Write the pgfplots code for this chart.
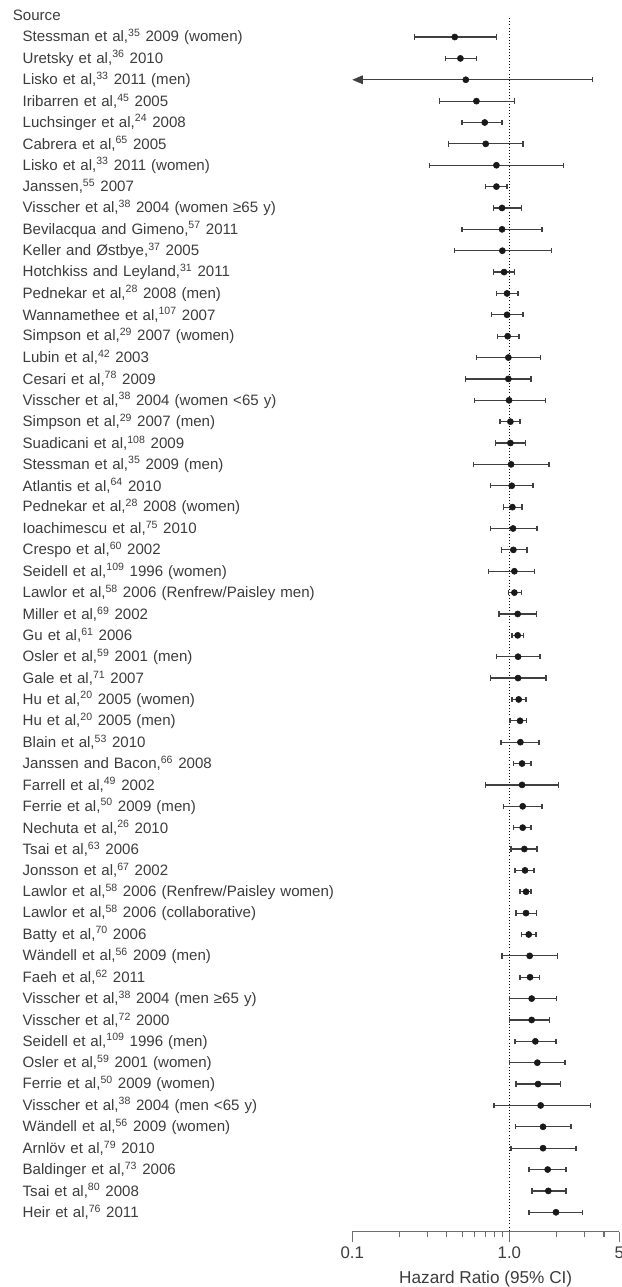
\documentclass[border=0pt]{standalone}
\usepackage{fontspec}
\setmainfont{Liberation Sans}
\usepackage{pgfplots}
\usepackage{pgfplotstable}
\pgfplotsset{compat=1.18}
\usetikzlibrary{arrows.meta}
\definecolor{txt}{RGB}{60,60,60}
\definecolor{axisgrey}{RGB}{110,110,110}

% y = row (top to bottom), hazard ratio, lower and upper 95% CI
\pgfplotstableread{
y hr lo hi
1 0.449 0.250 0.827
2 0.488 0.390 0.617
4 0.617 0.359 1.076
5 0.697 0.500 0.898
6 0.707 0.410 1.22
7 0.827 0.309 2.22
8 0.827 0.704 0.966
9 0.898 0.795 1.198
10 0.898 0.500 1.612
11 0.902 0.449 1.858
12 0.925 0.795 1.076
13 0.966 0.827 1.135
14 0.966 0.765 1.22
15 0.975 0.839 1.152
16 0.985 0.617 1.574
17 0.985 0.528 1.373
18 0.995 0.599 1.70
19 1.015 0.872 1.169
20 1.015 0.819 1.264
21 1.025 0.588 1.786
22 1.035 0.761 1.414
23 1.045 0.916 1.204
24 1.055 0.761 1.498
25 1.060 0.889 1.295
26 1.076 0.739 1.449
27 1.076 0.990 1.192
28 1.129 0.860 1.492
29 1.129 1.039 1.227
30 1.135 0.827 1.566
31 1.135 0.761 1.711
32 1.146 1.039 1.276
33 1.169 1.010 1.282
34 1.175 0.885 1.543
35 1.204 1.060 1.373
36 1.204 0.707 2.05
37 1.215 0.916 1.612
38 1.215 1.060 1.373
39 1.245 1.025 1.498
40 1.257 1.086 1.434
41 1.276 1.169 1.373
42 1.276 1.102 1.492
43 1.327 1.192 1.477
44 1.346 0.898 2.028
45 1.353 1.169 1.559
46 1.386 1.000 1.998
47 1.386 1.000 1.794
48 1.463 1.086 1.979
49 1.506 1.005 2.258
50 1.521 1.102 2.11
51 1.581 0.799 3.28
52 1.637 1.092 2.466
53 1.637 1.025 2.651
54 1.752 1.334 2.291
55 1.769 1.393 2.291
56 1.979 1.334 2.923
}\hrdata

\begin{document}
\begin{tikzpicture}
\path[use as bounding box] (-264.2pt,-41.5pt) rectangle (202.3pt,923.8pt);
\begin{axis}[
  at={(0,0)}, anchor=south west,
  scale only axis,
  width=200.25pt, height=910.05pt,
  xmode=log,
  xmin=0.1, xmax=5,
  ymin=0.125, ymax=56.908,
  y dir=reverse,
  clip=false,
  axis x line*=bottom,
  axis y line*=left,
  y axis line style={draw=none},
  x axis line style={axisgrey, line width=0.8pt},
  xtick={0.1,1,5},
  xticklabels={0.1,1.0,5},
  minor xtick={0.2,0.3,0.4,0.5,0.6,0.7,0.8,0.9,2,3,4},
  tick align=outside,
  major tick length=7.5pt,
  minor tick length=4pt,
  xtick style={axisgrey, line width=0.8pt},
  ytick style={draw=none},
  xticklabel style={font=\fontsize{12.6}{14}\selectfont, text=txt, yshift=-0.5pt},
  xlabel={Hazard Ratio (95\% CI)},
  xlabel style={font=\fontsize{12.9}{14}\selectfont, text=txt, yshift=-2pt},
  ytick={1,...,56},
  yticklabel style={anchor=east, inner sep=0pt, text width=239.5pt, align=left,
    font=\fontsize{11.3}{13}\selectfont, text=txt},
  yticklabels={
    {Stessman et al,\textsuperscript{35} 2009 (women)},
    {Uretsky et al,\textsuperscript{36} 2010},
    {Lisko et al,\textsuperscript{33} 2011 (men)},
    {Iribarren et al,\textsuperscript{45} 2005},
    {Luchsinger et al,\textsuperscript{24} 2008},
    {Cabrera et al,\textsuperscript{65} 2005},
    {Lisko et al,\textsuperscript{33} 2011 (women)},
    {Janssen,\textsuperscript{55} 2007},
    {Visscher et al,\textsuperscript{38} 2004 (women ≥65 y)},
    {Bevilacqua and Gimeno,\textsuperscript{57} 2011},
    {Keller and Østbye,\textsuperscript{37} 2005},
    {Hotchkiss and Leyland,\textsuperscript{31} 2011},
    {Pednekar et al,\textsuperscript{28} 2008 (men)},
    {Wannamethee et al,\textsuperscript{107} 2007},
    {Simpson et al,\textsuperscript{29} 2007 (women)},
    {Lubin et al,\textsuperscript{42} 2003},
    {Cesari et al,\textsuperscript{78} 2009},
    {Visscher et al,\textsuperscript{38} 2004 (women <65 y)},
    {Simpson et al,\textsuperscript{29} 2007 (men)},
    {Suadicani et al,\textsuperscript{108} 2009},
    {Stessman et al,\textsuperscript{35} 2009 (men)},
    {Atlantis et al,\textsuperscript{64} 2010},
    {Pednekar et al,\textsuperscript{28} 2008 (women)},
    {Ioachimescu et al,\textsuperscript{75} 2010},
    {Crespo et al,\textsuperscript{60} 2002},
    {Seidell et al,\textsuperscript{109} 1996 (women)},
    {Lawlor et al,\textsuperscript{58} 2006 (Renfrew/Paisley men)},
    {Miller et al,\textsuperscript{69} 2002},
    {Gu et al,\textsuperscript{61} 2006},
    {Osler et al,\textsuperscript{59} 2001 (men)},
    {Gale et al,\textsuperscript{71} 2007},
    {Hu et al,\textsuperscript{20} 2005 (women)},
    {Hu et al,\textsuperscript{20} 2005 (men)},
    {Blain et al,\textsuperscript{53} 2010},
    {Janssen and Bacon,\textsuperscript{66} 2008},
    {Farrell et al,\textsuperscript{49} 2002},
    {Ferrie et al,\textsuperscript{50} 2009 (men)},
    {Nechuta et al,\textsuperscript{26} 2010},
    {Tsai et al,\textsuperscript{63} 2006},
    {Jonsson et al,\textsuperscript{67} 2002},
    {Lawlor et al,\textsuperscript{58} 2006 (Renfrew/Paisley women)},
    {Lawlor et al,\textsuperscript{58} 2006 (collaborative)},
    {Batty et al,\textsuperscript{70} 2006},
    {Wändell et al,\textsuperscript{56} 2009 (men)},
    {Faeh et al,\textsuperscript{62} 2011},
    {Visscher et al,\textsuperscript{38} 2004 (men ≥65 y)},
    {Visscher et al,\textsuperscript{72} 2000},
    {Seidell et al,\textsuperscript{109} 1996 (men)},
    {Osler et al,\textsuperscript{59} 2001 (women)},
    {Ferrie et al,\textsuperscript{50} 2009 (women)},
    {Visscher et al,\textsuperscript{38} 2004 (men <65 y)},
    {Wändell et al,\textsuperscript{56} 2009 (women)},
    {Arnlöv et al,\textsuperscript{79} 2010},
    {Baldinger et al,\textsuperscript{73} 2006},
    {Tsai et al,\textsuperscript{80} 2008},
    {Heir et al,\textsuperscript{76} 2011}
  },
]
% reference line at HR = 1
\addplot[black, line width=0.7pt, dash pattern=on 0.7pt off 1.6pt] coordinates {(1,0.125) (1,56.908)};

\addplot[only marks, mark=*, mark size=2.3pt, mark options={fill=black!90, draw=black!90},
  error bars/.cd, x dir=both, x explicit, error mark=|,
  error bar style={black!75, line width=0.9pt},
  error mark options={black!75, line width=0.9pt, mark size=2pt}]
  table[x=hr, y=y,
    x error plus expr=\thisrow{hi}-\thisrow{hr},
    x error minus expr=\thisrow{hr}-\thisrow{lo}] {\hrdata};

% Lisko 2011 (men): lower limit runs off the axis
\addplot[black!75, line width=0.9pt, {Triangle[length=8pt,width=6.5pt]}-] coordinates {(0.1,3) (0.528,3)};
\addplot[only marks, mark=*, mark size=2.3pt, mark options={fill=black!90, draw=black!90},
  error bars/.cd, x dir=plus, x explicit, error mark=|,
  error bar style={black!75, line width=0.9pt},
  error mark options={black!75, line width=0.9pt, mark size=2pt}]
  coordinates {(0.528,3) +- (2.842,0)};

\node[anchor=west, inner sep=0pt, font=\fontsize{11.3}{13}\selectfont, text=txt]
  at (axis cs:0.1,-0.03) [xshift=-254.7pt] {Source};
\end{axis}
\end{tikzpicture}
\end{document}
